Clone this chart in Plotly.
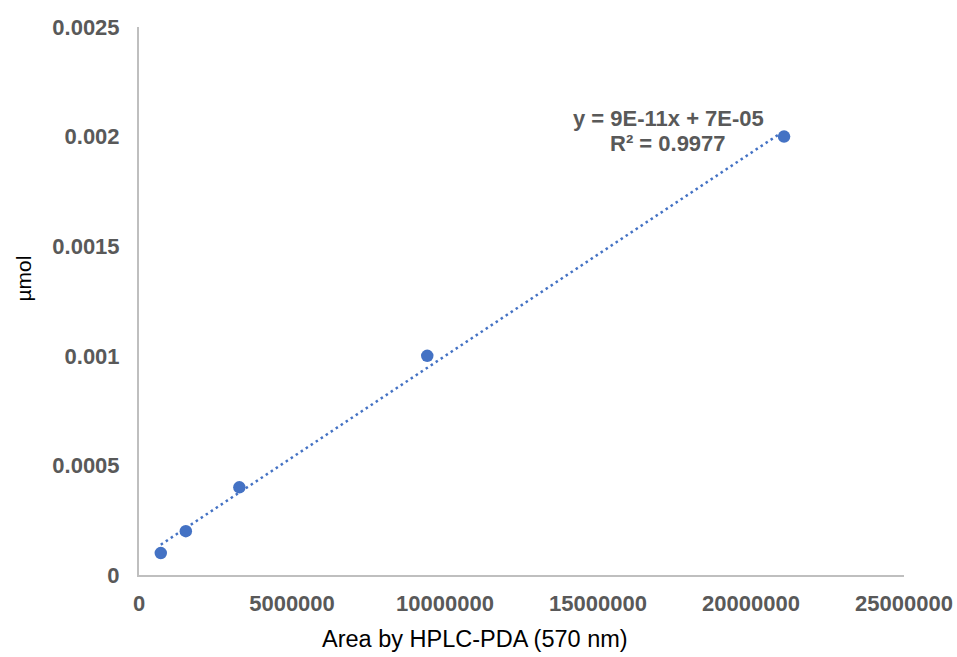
import numpy as np
import plotly.graph_objects as go

# Calibration standards: peak area vs amount injected
area = [712000, 1530000, 3280000, 9420000, 21080000]
umol = [0.0001, 0.0002, 0.0004, 0.001, 0.002]

x_ticks = [0, 5000000, 10000000, 15000000, 20000000, 25000000]
y_ticks = [0, 0.0005, 0.001, 0.0015, 0.002, 0.0025]
y_tick_text = ["0", "0.0005", "0.001", "0.0015", "0.002", "0.0025"]

eq_lines = ["y = 9E-11x + 7E-05", "R² = 0.9977"]

BLUE = "#4472C4"
GREY_TXT = "#595959"
AXIS = "#BFBFBF"
FONT = "Liberation Sans, Arial, sans-serif"

# Plot-area geometry in pixels (used for placing free text)
L, R, T, B = 138.5, 904, 27, 575
W, H = R - L, B - T


def px(xp):
    return (xp - L) / W


def py(yp):
    return (B - yp) / H


# Linear least-squares trendline across the measured range
slope, intercept = np.polyfit(area, umol, 1)
fit_x = np.array([min(area), max(area)])
fit_y = slope * fit_x + intercept

fig = go.Figure()
fig.add_trace(go.Scatter(
    x=fit_x, y=fit_y, mode="lines",
    line=dict(color=BLUE, width=2.5, dash="2.5px,3.5px"),
    hoverinfo="skip", showlegend=False,
))
fig.add_trace(go.Scatter(
    x=area, y=umol, mode="markers",
    marker=dict(color=BLUE, size=12.5),
    showlegend=False,
))

annotations = []
for line, ypix in zip(eq_lines, [118, 143]):
    annotations.append(dict(
        text=line, xref="paper", yref="paper", x=px(668), y=py(ypix),
        xanchor="center", yanchor="middle", showarrow=False,
        font=dict(family=FONT, size=22, color=GREY_TXT, weight="bold"),
    ))
annotations.append(dict(
    text="Area by HPLC-PDA (570 nm)", xref="paper", yref="paper",
    x=px(475), y=py(639), xanchor="center", yanchor="middle", showarrow=False,
    font=dict(family=FONT, size=23.5, color="#000000"),
))
annotations.append(dict(
    text="µmol", xref="paper", yref="paper", textangle=-90,
    x=px(22), y=py(279), xanchor="center", yanchor="middle", showarrow=False,
    font=dict(family=FONT, size=21, color="#000000"),
))

fig.update_layout(
    width=957, height=657,
    margin=dict(l=L, r=957 - R, t=T, b=657 - B, autoexpand=False),
    paper_bgcolor="white", plot_bgcolor="white",
    font=dict(family=FONT, color=GREY_TXT),
    annotations=annotations,
)

fig.update_xaxes(
    range=[0, 25000000], tickvals=x_ticks, tickformat="d",
    showgrid=False, zeroline=False, showline=True, linecolor=AXIS, linewidth=2,
    ticks="", ticklabelstandoff=8, automargin=False,
    tickfont=dict(family=FONT, size=22, color=GREY_TXT, weight="bold"),
)
fig.update_yaxes(
    range=[0, 0.0025], tickvals=y_ticks, ticktext=y_tick_text,
    showgrid=False, zeroline=False, showline=True, linecolor=AXIS, linewidth=2,
    ticks="", ticklabelstandoff=13, automargin=False,
    tickfont=dict(family=FONT, size=22, color=GREY_TXT, weight="bold"),
)

fig.write_html("out.html")
